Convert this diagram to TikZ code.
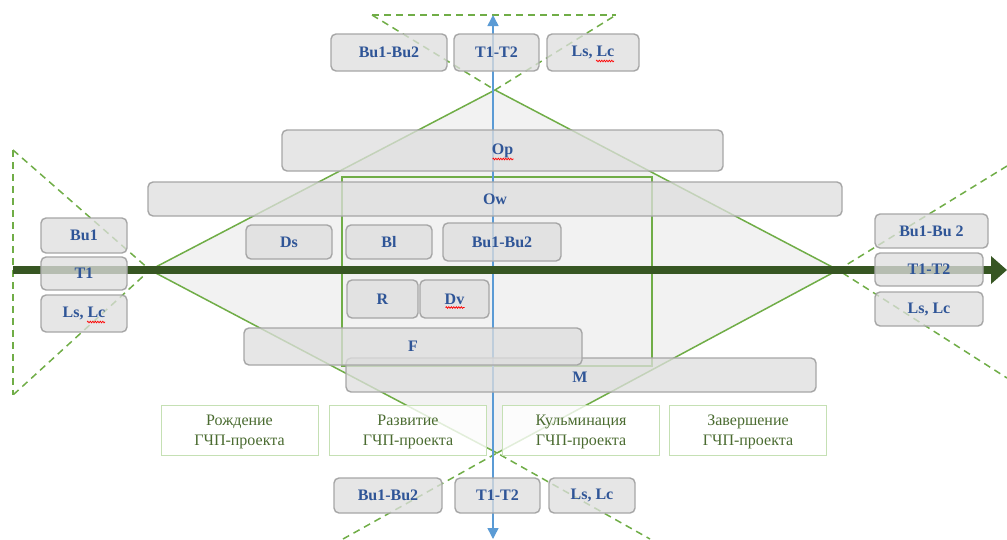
\documentclass[tikz,border=0pt]{standalone}
\usepackage{fontspec}
\setmainfont{Liberation Serif}
\usetikzlibrary{arrows.meta,decorations.pathmorphing}
\definecolor{boxfill}{HTML}{DEDEDE}
\definecolor{boxline}{HTML}{A6A6A6}
\definecolor{boxblue}{HTML}{2F5597}
\definecolor{dgreen}{HTML}{375623}
\definecolor{lgreen}{HTML}{70AD47}
\definecolor{pgreen}{HTML}{C5E0B4}
\definecolor{ptext}{HTML}{4A6B30}
\definecolor{diafill}{HTML}{F2F2F2}
\definecolor{arrblue}{HTML}{5B9BD5}
\begin{document}
\begin{tikzpicture}[x=1pt,y=-1pt,
  gbox/.style={draw=boxline, line width=1.4pt, fill=boxfill, fill opacity=0.76, text opacity=1,
    rounded corners=5pt, inner sep=0pt, text=boxblue, font=\fontsize{16}{19}\selectfont\bfseries},
  phasebox/.style={draw=pgreen, line width=0.8pt, fill=white, fill opacity=0.8, text opacity=1,
    inner sep=0pt, minimum width=157pt, minimum height=50pt},
  phasetext/.style={text=ptext, align=center, inner sep=0pt, font=\fontsize{16}{20}\selectfont},
  dia/.style={draw=lgreen, line width=1.5pt},
  dashln/.style={draw=lgreen, line width=1.5pt, dash pattern=on 7pt off 5pt},
  squig/.style={draw=red, line width=0.7pt, decorate, decoration={snake, amplitude=0.8pt, segment length=2.5pt}}]
\useasboundingbox (0,0) rectangle (1007,539);
% diamond
\coordinate (dL) at (150,270);
\coordinate (dT) at (495,90);
\coordinate (dR) at (838,270);
\coordinate (dB) at (497,453);
\fill[diafill] (dL) -- (dT) -- (dR) -- (dB) -- cycle;
\draw[dia, line join=miter] (dL) -- (dT) -- (dR) -- (dB) -- cycle;
% dashed extensions
\coordinate (tl) at (372,15);
\coordinate (tr) at (616,15);
\draw[dashln] (tl) -- (tr);
\draw[dashln] (tl) -- (dT) -- (tr);
\coordinate (ltop) at (13,150);
\coordinate (lbot) at (13,395);
\draw[dashln] (ltop) -- (lbot);
\draw[dashln] (ltop) -- (dL) -- (lbot);
\coordinate (rtop) at (1007,166);
\coordinate (rbot) at (1007,378);
\draw[dashln] (rtop) -- (dR) -- (rbot);
\coordinate (bl) at (343,539);
\coordinate (br) at (650,539);
\draw[dashln] (bl) -- (dB) -- (br);
% inner rectangle
\node[draw=lgreen, line width=1.5pt, minimum width=310pt, minimum height=189pt, inner sep=0pt] (inner) at (497,271.5) {};
% blue axis
\coordinate (vtop) at (493,15);
\coordinate (vbot) at (493,539);
\draw[arrblue, line width=1.5pt, {Triangle[length=11pt,width=11pt]}-{Triangle[length=11pt,width=11pt]}] (vbot) -- (vtop);
% dark green axis
\coordinate (hs) at (13,270);
\coordinate (he) at (1007,270);
\draw[dgreen, line width=8pt, -{Triangle[length=16pt,width=27pt]}] (hs) -- (he);
% boxes
\node[gbox, minimum width=116pt, minimum height=37pt] (tBu) at (389,52.5) {Bu1-Bu2};
\node[gbox, minimum width=85pt, minimum height=37pt] (tT) at (496.5,52.5) {T1-T2};
\node[gbox, minimum width=92pt, minimum height=37pt] (tL) at (593,52.5) {Ls, Lc};
\node[gbox, minimum width=441pt, minimum height=41pt] (Op) at (502.5,150.5) {Op};
\node[gbox, minimum width=694pt, minimum height=34pt] (Ow) at (495,199) {Ow};
\node[gbox, minimum width=86pt, minimum height=34pt] (Ds) at (289,242) {Ds};
\node[gbox, minimum width=86pt, minimum height=34pt] (Bl) at (389,242) {Bl};
\node[gbox, minimum width=118pt, minimum height=38pt] (mBu) at (502,242) {Bu1-Bu2};
\node[gbox, minimum width=71pt, minimum height=38pt] (R) at (382.5,299) {R};
\node[gbox, minimum width=69pt, minimum height=38pt] (Dv) at (454.5,299) {Dv};
\node[gbox, minimum width=470pt, minimum height=34pt] (M) at (581,375) {};
\node[gbox, minimum width=338pt, minimum height=37pt] (F) at (413,346.5) {F};
\node[font=\fontsize{16}{19}\selectfont\bfseries, text=boxblue, inner sep=0pt] (Mt) at (580,377) {M};
\node[gbox, minimum width=86pt, minimum height=35pt] (lBu) at (84,235.5) {Bu1};
\node[gbox, minimum width=86pt, minimum height=33pt] (lT) at (84,273.5) {T1};
\node[gbox, minimum width=86pt, minimum height=37pt] (lL) at (84,313.5) {Ls, Lc};
\node[gbox, minimum width=113pt, minimum height=34pt] (rBu) at (931.5,231) {Bu1-Bu 2};
\node[gbox, minimum width=108pt, minimum height=33pt] (rT) at (929,269.5) {T1-T2};
\node[gbox, minimum width=108pt, minimum height=34pt] (rL) at (929,309) {Ls, Lc};
\node[gbox, minimum width=108pt, minimum height=35pt] (bBu) at (388,495.5) {Bu1-Bu2};
\node[gbox, minimum width=85pt, minimum height=35pt] (bT) at (497.5,495.5) {T1-T2};
\node[gbox, minimum width=86pt, minimum height=35pt] (bL) at (592,495.5) {Ls, Lc};
% spell-check squiggles
\draw[squig] ([xshift=3pt,yshift=-8.5pt]tL.center) -- ([xshift=21pt,yshift=-8.5pt]tL.center);
\draw[squig] ([xshift=3pt,yshift=-8.5pt]lL.center) -- ([xshift=21pt,yshift=-8.5pt]lL.center);
\draw[squig] ([xshift=-10pt,yshift=-8.5pt]Op.center) -- ([xshift=11pt,yshift=-8.5pt]Op.center);
\draw[squig] ([xshift=-9pt,yshift=-8.5pt]Dv.center) -- ([xshift=10pt,yshift=-8.5pt]Dv.center);
% phases
\node[phasebox] (p1) at (239.5,430) {};
\node[phasebox] (p2) at (408,430) {};
\node[phasebox] (p3) at (581,430) {};
\node[phasebox] (p4) at (748,430) {};
\node[phasetext] (p1t) at (239.5,432) {Рождение\\ГЧП-проекта};
\node[phasetext] (p2t) at (408,432) {Развитие\\ГЧП-проекта};
\node[phasetext] (p3t) at (581,432) {Кульминация\\ГЧП-проекта};
\node[phasetext] (p4t) at (748,432) {Завершение\\ГЧП-проекта};
\end{tikzpicture}
\end{document}
